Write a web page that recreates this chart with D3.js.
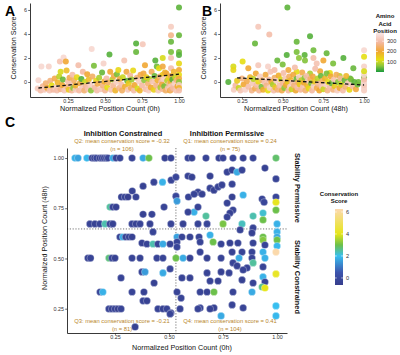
<!DOCTYPE html>
<html><head><meta charset="utf-8">
<script src="https://cdn.jsdelivr.net/npm/d3@7"></script>
<style>
body{margin:0;background:#fff}
svg{display:block}
text{font-family:"Liberation Sans",Arial,Helvetica,sans-serif}
</style>
</head><body>
<svg id="fig" width="400" height="355"></svg>
<script>
// ---------- DATA ----------
// Panel A: [normalized count 0h, conservation score, amino acid position]
const panelA = [
[0.045,-0.55,330],[0.05,0.15,345],[0.065,-0.7,300],[0.07,1.3,350],[0.08,-0.35,280],[0.09,-0.65,320],[0.1,-0.1,250],[0.11,-0.5,200],[0.12,1.3,340],[0.125,-0.7,310],[0.13,0.1,260],[0.14,-0.3,120],[0.15,-0.65,290],[0.16,0.3,220],[0.165,-0.45,330],[0.175,-0.7,300],[0.18,-0.05,180],[0.19,0.45,90],[0.195,1.7,310],[0.2,0.85,110],[0.2,-0.6,270],[0.21,-0.25,200],[0.215,0.2,40],[0.22,2.05,350],[0.225,-0.7,320],[0.235,1.7,200],[0.24,0.95,170],[0.245,-0.4,260],[0.25,0.05,300],[0.255,-0.65,150],[0.26,0.35,220],[0.27,-0.2,310],[0.275,-0.7,280],[0.28,0.6,300],[0.285,-0.5,60],[0.29,0.15,240],[0.3,-0.65,330],[0.3,-0.3,190],
[0.31,0.4,130],[0.32,1.4,300],[0.325,-0.7,290],[0.33,-0.1,210],[0.34,0.25,30],[0.345,-0.5,320],[0.35,0.85,290],[0.36,-0.7,250],[0.365,0.0,100],[0.37,-0.35,280],[0.38,0.65,200],[0.385,-0.6,310],[0.39,0.2,170],[0.4,-0.2,330],[0.405,-0.7,60],[0.41,2.75,350],[0.415,0.45,240],[0.425,1.35,50],[0.43,-0.45,290],[0.44,0.1,130],[0.445,-0.7,300],[0.45,-0.15,220],[0.46,0.35,80],[0.47,-0.6,320],[0.48,0.8,40],[0.485,-0.3,260],[0.49,1.55,340],[0.495,0.05,190],[0.5,-0.7,280],[0.51,0.3,300],[0.515,-0.45,120],[0.52,-0.05,240],[0.53,2.3,30],[0.535,0.85,200],[0.54,-0.65,310],[0.55,0.2,90],[0.555,-0.3,280],[0.56,0.5,220],[0.57,-0.7,180],[0.575,0.0,330],[0.58,0.65,50],[0.59,1.0,130],[0.595,-0.5,270],[0.6,0.25,210],
[0.61,-0.2,300],[0.615,-0.7,240],[0.62,0.4,100],[0.63,1.8,310],[0.635,-0.4,190],[0.645,0.85,210],[0.65,0.1,40],[0.655,-0.65,320],[0.66,-0.1,150],[0.67,0.55,280],[0.675,-0.5,230],[0.68,0.2,70],[0.69,0.95,130],[0.695,-0.7,300],[0.7,-0.25,200],[0.71,3.2,30],[0.71,2.5,40],[0.715,0.35,260],[0.72,-0.55,110],[0.73,0.05,330],[0.735,-0.7,180],[0.74,0.6,220],[0.75,-0.3,290],[0.755,3.15,320],[0.76,0.7,210],[0.765,0.15,60],[0.77,1.4,200],[0.775,-0.6,300],[0.78,0.4,150],[0.79,-0.15,250],[0.795,-0.7,330],[0.8,0.25,90],[0.81,-0.45,200],[0.815,0.85,230],[0.82,0.05,310],[0.83,-0.65,140],[0.835,0.5,40],[0.84,1.8,30],[0.845,-0.3,270],[0.85,1.3,45],
[0.855,0.15,190],[0.86,-0.7,320],[0.865,1.15,120],[0.87,0.45,260],[0.875,-0.45,80],[0.88,0.0,300],[0.885,-0.2,210],[0.89,2.0,110],[0.89,1.3,210],[0.89,0.6,150],[0.89,-0.6,280],[0.895,0.25,330],[0.9,-0.35,50],[0.905,0.8,180],[0.91,-0.7,240],[0.915,0.7,200],[0.92,0.1,90],[0.925,-0.5,310],[0.93,0.35,140],[0.935,-0.15,270],[0.94,-0.7,200],[0.946,4.6,330],[0.946,3.9,270],[0.946,3.35,40],[0.946,2.5,50],[0.946,2.0,310],[0.946,1.15,300],[0.946,0.5,220],[0.946,0.0,180],[0.946,-0.35,320],[0.946,-0.65,250],[0.955,0.2,30],[0.96,-0.5,290],[0.965,0.85,180],[0.97,-0.1,340],[0.975,0.4,100],[0.98,-0.7,310],[0.985,0.15,260],[0.99,-0.35,200],[1.0,6.2,35],[1.0,3.9,40],[1.0,2.5,45],[1.0,2.25,30],[1.0,1.55,130],[1.0,1.0,200],[1.0,0.6,120],[1.0,0.3,210],[1.0,0.0,60],[1.0,-0.25,330],[1.0,-0.5,180],[1.0,-0.7,300]
];
// Panel B: [normalized count 48h, conservation score, amino acid position]
const panelB = [
[0.529,6.2,35],[0.35,4.6,320],[0.418,3.95,300],[0.33,3.2,40],[0.668,3.8,30],[0.586,3.35,40],[0.586,2.5,50],[0.6,2.0,60],[1.0,2.65,350],[1.0,2.1,120],[1.0,1.3,340],[0.467,1.8,40],[0.525,2.25,30],[0.5,1.45,50],[0.689,2.65,45],[0.635,2.25,35],[0.637,1.8,55],[0.689,2.0,300],[0.75,1.8,200],[0.77,2.4,40],[0.81,1.55,50],[0.873,2.0,30],[0.934,1.15,40],[0.709,1.55,310],[0.35,1.4,320],[0.289,1.15,200],[0.254,1.7,120],[0.197,1.3,110],[0.197,1.0,130],[0.166,0.0,30],[0.41,1.3,340],[0.45,1.0,300],[0.535,1.0,210],[0.586,0.85,120],[0.668,0.7,80],[0.73,0.9,200],[0.79,0.75,120],[0.85,0.5,90],[0.914,0.3,40],[0.965,0.0,45],[1.0,0.35,40],
[0.2,-0.65,330],[0.21,-0.3,290],[0.22,0.1,150],[0.23,-0.5,100],[0.24,-0.7,310],[0.25,0.3,260],[0.26,-0.2,200],[0.27,-0.65,340],[0.28,0.05,220],[0.29,-0.4,300],[0.3,0.4,180],[0.31,-0.7,270],[0.315,-0.1,320],[0.32,0.25,90],[0.33,-0.55,230],[0.335,0.7,200],[0.34,-0.25,300],[0.35,0.05,130],[0.355,-0.7,280],[0.36,0.45,330],[0.37,-0.4,50],[0.375,0.15,250],[0.38,-0.65,190],[0.39,-0.05,310],[0.395,0.6,210],[0.4,-0.3,270],[0.41,-0.7,120],[0.415,0.2,290],[0.42,-0.5,340],[0.425,0.85,310],[0.43,0.0,200],[0.44,-0.2,80],[0.445,-0.7,300],[0.45,0.35,240],[0.455,-0.45,160],[0.46,0.1,330],[0.47,-0.65,260],[0.475,0.55,190],[0.48,-0.3,300],[0.49,0.2,110],[0.495,-0.7,220],[0.5,-0.1,280],[0.505,0.75,300],[0.51,-0.5,60],[0.515,0.3,320],[0.52,-0.25,200],[0.53,0.05,150],[0.535,-0.7,290],[0.54,0.45,240],[0.545,-0.4,330],[0.55,0.15,180],[0.555,-0.6,100],[0.56,-0.05,310],[0.565,0.6,210],[0.57,-0.3,260],[0.575,1.2,300],[0.58,-0.7,200],[0.585,0.25,40],[0.59,-0.45,300],[0.595,0.0,230],[0.6,0.4,330],[0.605,-0.2,150],[0.61,-0.65,280],[0.615,0.15,90],[0.62,0.8,220],[0.625,-0.4,310],[0.63,-0.05,200],[0.635,0.35,60],[0.64,-0.7,250],[0.645,0.5,300],[0.65,-0.25,180],[0.655,0.1,320],[0.66,-0.55,130],[0.67,0.25,240],[0.675,-0.1,50],[0.68,-0.7,290],[0.685,0.45,210],[0.69,-0.35,330],[0.695,0.05,160],[0.7,1.1,300],[0.71,-0.5,220],[0.715,0.3,90],[0.72,-0.15,280],[0.725,-0.7,200],[0.735,0.5,40],[0.74,-0.4,310],[0.745,0.1,240],[0.75,-0.6,100],[0.76,0.3,180],[0.765,-0.2,330],[0.77,0.7,50],[0.775,-0.7,270],[0.78,0.0,120],[0.79,-0.45,300],[0.795,0.45,200],[0.8,-0.1,40],[0.81,-0.65,260],[0.815,0.2,310],[0.82,-0.35,150],[0.83,0.6,230],[0.835,-0.7,330],[0.84,0.0,60],[0.85,-0.5,200],[0.855,0.3,280],[0.86,-0.2,110],[0.87,-0.7,300],[0.88,0.15,40],[0.885,-0.4,250],[0.89,0.5,180],[0.9,-0.1,320],[0.91,-0.65,130],[0.92,0.2,50],[0.93,-0.35,290],[0.94,0.0,35],[0.95,-0.6,210],[0.96,-0.2,45],[1.0,-0.7,330],[1.0,-0.5,340],[1.0,-0.25,320],[1.0,0.0,345],[1.0,0.2,300],[1.0,0.6,350],[1.0,0.9,110]
];
// Panel C: [normalized count 0h, normalized count 48h, conservation score]
const panelC = [
[0.065,1,1.8],[0.079,1,1.6],[0.12,1,1.9],[0.144,1,-0.3],[0.155,1,-0.4],[0.165,1,-0.2],[0.18,1,-0.5],[0.19,1,-0.3],[0.2,1,-0.4],[0.21,1,-0.3],[0.218,1,-0.2],[0.241,1,1.7],[0.255,1,-0.4],[0.273,1,-0.3],[0.329,1,-0.3],[0.38,1,1.7],[0.407,1,3.0],[0.481,1,-0.4],[0.509,1,-0.3],[0.588,1,-0.3],[0.606,1,-0.4],[0.671,1,-0.3],[0.731,1,-0.4],[0.75,1,-0.3],[0.796,1,-0.3],[0.843,1,-0.4],[0.889,1,-0.3],[0.995,1,2.8],
[0.47,0.88,1.8],[0.51,0.89,-0.3],[0.532,0.905,-0.2],[0.43,0.88,-0.3],[0.38,0.86,-0.4],[0.33,0.836,-0.3],[0.28,0.806,-0.4],[0.296,0.806,-0.3],[0.31,0.806,-0.5],[0.347,0.806,-0.3],[0.532,0.81,-0.2],[0.537,0.786,1.5],[0.227,0.756,2.5],[0.24,0.756,-0.3],[0.255,0.756,-0.4],[0.477,0.756,-0.3],[0.38,0.72,-0.4],[0.421,0.72,-0.3],
[0.134,0.672,-0.3],[0.157,0.672,-0.4],[0.18,0.672,-0.3],[0.204,0.672,2.4],[0.227,0.672,-0.3],[0.24,0.672,-0.4],[0.329,0.672,-0.3],[0.347,0.672,-0.4],[0.366,0.672,-0.3],[0.412,0.672,-0.4],[0.509,0.672,-0.3],
[0.565,0.672,-0.4],[0.634,0.672,-0.3],[0.676,0.672,-0.2],[0.588,0.91,-0.3],[0.606,0.905,-0.4],[0.59,0.806,-0.3],[0.634,0.83,-0.4],[0.671,0.711,2.5],[0.616,0.731,1.8],[0.588,0.731,-0.3],[0.634,0.756,-0.3],[0.616,0.82,-0.3],[0.653,0.82,-0.4],[0.69,0.85,-0.3],[0.708,0.84,-0.4],[0.727,0.856,-0.3],[0.745,0.866,-0.3],[0.69,0.91,-0.4],[0.769,0.93,-0.3],[0.792,0.94,-0.4],[0.815,0.93,1.7],[0.838,0.94,-0.3],[0.944,0.95,-0.4],[0.995,0.896,-0.3],[0.792,0.87,-0.3],[0.792,0.806,-0.4],[0.843,0.816,1.8],[0.769,0.776,-0.3],[0.931,0.796,-0.3],[0.94,0.78,-0.2],[0.995,0.806,-0.2],[0.995,0.78,4.1],[0.796,0.741,-0.3],[0.782,0.726,-0.4],[0.769,0.706,-0.3],[0.995,0.741,3.0],[0.889,0.711,2.4],[0.935,0.726,2.2],[0.935,0.692,3.0],[0.75,0.672,3.1],[0.838,0.672,2.3],[1.0,0.672,1.8],[0.889,0.652,-0.3],
[0.273,0.607,-0.3],[0.287,0.607,1.7],[0.3,0.607,-0.4],[0.315,0.607,-0.3],[0.329,0.607,-0.4],[0.426,0.632,-0.3],[0.375,0.577,-0.4],[0.398,0.572,-0.3],[0.426,0.572,2.4],[0.449,0.572,-0.3],[0.472,0.572,1.7],[0.505,0.572,-0.3],[0.125,0.502,-0.4],[0.137,0.502,-0.3],[0.222,0.502,2.7],[0.236,0.502,-0.3],[0.25,0.502,-0.4],[0.329,0.502,-0.3],[0.366,0.502,-0.4],[0.444,0.502,-0.3],[0.472,0.502,-0.3],[0.505,0.448,-0.2],[0.278,0.403,-0.3],[0.375,0.433,-0.3],[0.389,0.433,1.5],[0.472,0.428,1.7],[0.431,0.378,-0.4],[0.181,0.333,-0.3],[0.194,0.333,1.8],[0.329,0.333,-0.3],[0.384,0.333,-0.4],[0.38,0.289,-0.3],[0.398,0.289,-0.4],[0.222,0.249,-0.3],[0.236,0.249,-0.4],[0.25,0.249,-0.3],[0.264,0.249,-0.5],[0.278,0.249,-0.3],[0.449,0.249,-0.3],[0.472,0.249,-0.4],[0.49,0.249,-0.3],[0.509,0.229,-0.3],[0.343,0.159,-0.4],[0.505,0.224,-0.3],
[0.537,0.607,1.6],[0.56,0.607,-0.3],[0.597,0.607,-0.4],[0.639,0.607,-0.3],[0.537,0.582,-0.3],[0.537,0.557,-0.2],[0.69,0.617,1.8],[0.829,0.642,-0.3],[0.884,0.627,-0.4],[0.935,0.607,3.0],[1.0,0.632,1.8],[0.644,0.582,-0.3],[0.704,0.582,3.0],[0.741,0.572,-0.3],[0.782,0.577,-0.4],[0.819,0.577,-0.3],[0.889,0.577,-0.3],[0.935,0.592,3.2],[0.944,0.567,-0.3],[1.0,0.607,1.7],[1.0,0.592,3.0],[1.0,0.562,1.9],[0.644,0.532,-0.3],[0.792,0.532,-0.4],[0.838,0.532,-0.3],[0.884,0.532,-0.3],[0.935,0.532,1.8],[0.995,0.532,6.2],[0.532,0.502,3.0],[0.565,0.502,1.7],[0.597,0.502,-0.4],[0.676,0.502,-0.4],[0.741,0.502,-0.3],[0.824,0.502,1.7],[0.884,0.502,-0.3],[0.944,0.502,1.8],[0.796,0.478,-0.3],[0.815,0.463,-0.4],[0.889,0.478,2.5],[0.861,0.453,-0.3],[0.935,0.458,-0.3],[0.676,0.428,-0.3],[0.741,0.433,-0.4],[0.778,0.428,-0.3],[0.843,0.443,-0.3],[0.838,0.393,-0.4],[0.889,0.378,-0.3],[0.935,0.408,1.8],[0.944,0.383,-0.3],[0.995,0.423,4.2],[0.69,0.388,-0.3],[0.727,0.388,-0.4],[0.931,0.358,2.6],[0.944,0.353,4.0],[0.644,0.333,-0.3],[0.676,0.333,-0.4],[0.708,0.333,3.0],[0.796,0.333,-0.3],[0.884,0.333,1.7],[0.644,0.254,-0.3],[0.708,0.254,-0.4],[0.792,0.269,-0.3],[0.843,0.254,-0.3],[0.995,0.264,2.0],[0.741,0.214,1.7],[0.995,0.214,1.9],[0.556,0.303,-0.3],[0.537,0.333,-0.3],[0.56,0.403,-0.3],[0.597,0.403,-0.4],[0.551,0.249,-0.3],[0.634,0.249,-0.3],[0.69,0.249,-0.4]
];
const trendA = [[0.05,-0.5],[1.0,0.65]];
const trendB = [[0.22,0.35],[1.0,-0.25]];
const xTicks = [0.25,0.5,0.75,1.0];
const consTicks = [0,2,4,6];
const posTicks = [100,200,300];
const cutX = 0.532, cutY = 0.647;
const quadrants = [
  {label:"Q2: mean conservation score = -0.32", n:"(n = 106)"},
  {label:"Q1: mean conservation score = 0.24", n:"(n = 75)"},
  {label:"Q3: mean conservation score = -0.21", n:"(n = 81)"},
  {label:"Q4: mean conservation score = 0.41", n:"(n = 104)"}
];
const posColors = ["#1a9a3c","#8dc63a","#e6de12","#f1a733","#f4b9a2","#f8e6e6"];
const posStops = [0,60,120,200,290,380];
const consColors = ["#363d8c","#3d54ad","#38bff0","#6cc04a","#e6e61a","#fcd9b0"];
const consStops = [-0.64,0.5,2,3,4,6.27];

// ---------- DRAW ----------
const svg = d3.select("#fig");
const defs = svg.append("defs");
const posColor = d3.scaleLinear().domain(posStops).range(posColors).clamp(true);
const consColor = d3.scaleLinear().domain(consStops).range(consColors).clamp(true);
const fmt2 = d3.format(".2f");
const tickFont = 5.4, titleFont = 7.2;

function styleAxis(g){
  g.select(".domain").attr("stroke","#222").attr("stroke-width",0.9);
  g.selectAll(".tick line").attr("stroke","#222").attr("stroke-width",0.7);
  g.selectAll(".tick text").attr("fill","#333").attr("font-size",tickFont).attr("font-family","Liberation Sans, Arial, sans-serif");
}

function scatterPanel(cfg){
  const x = d3.scaleLinear().domain(cfg.xDom).range(cfg.xRange);
  const y = d3.scaleLinear().domain(cfg.yDom).range(cfg.yRange);
  const g = svg.append("g");
  g.selectAll("circle").data(cfg.data).join("circle")
    .attr("cx",d=>x(d[0])).attr("cy",d=>y(d[1])).attr("r",3.0)
    .attr("fill",d=>posColor(d[2])).attr("fill-opacity",0.9);
  g.append("path").datum(cfg.trend)
    .attr("d",d3.line().x(d=>x(d[0])).y(d=>y(d[1])))
    .attr("stroke","#111").attr("stroke-width",1.3).attr("stroke-dasharray","3.5,2.5").attr("fill","none");
  g.append("g").attr("transform",`translate(0,${cfg.yRange[0]})`)
    .call(d3.axisBottom(x).tickValues(xTicks).tickFormat(fmt2).tickSize(1.8).tickPadding(0.6).tickSizeOuter(0)).call(styleAxis);
  g.append("g").attr("transform",`translate(${cfg.xRange[0]},0)`)
    .call(d3.axisLeft(y).tickValues(consTicks).tickSize(1.8).tickPadding(1.2).tickSizeOuter(0)).call(styleAxis);
  g.append("text").attr("x",cfg.xTitleX).attr("y",cfg.yRange[0]+13.5).attr("text-anchor","middle")
    .attr("font-size",titleFont).attr("fill","#111").text(cfg.xTitle);
  g.append("text").attr("transform",`translate(${cfg.yTitleX},${cfg.yTitleY}) rotate(-90)`).attr("text-anchor","middle")
    .attr("font-size",titleFont).attr("fill","#111").text("Conservation Score");
  svg.append("text").attr("x",cfg.tagX).attr("y",cfg.tagY).attr("font-size",14).attr("font-weight","bold").attr("fill","#000").text(cfg.tag);
}

scatterPanel({data:panelA, trend:trendA, xDom:[-0.007,1.027], xRange:[30,183], yDom:[-1.25,6.58], yRange:[97,3],
  xTitle:"Normalized Position Count (0h)", xTitleX:110, yTitleX:16, yTitleY:48, tag:"A", tagX:5, tagY:16});
scatterPanel({data:panelB, trend:trendB, xDom:[0.115,1.018], xRange:[220,367], yDom:[-1.25,6.58], yRange:[97,3],
  xTitle:"Normalized Position Count (48h)", xTitleX:296, yTitleX:206, yTitleY:48, tag:"B", tagX:202, tagY:16});

// Legend: Amino Acid Position
(function(){
  const y0 = 72, y1 = 33, bx = 376, bw = 8;
  const s = d3.scaleLinear().domain([0,380]).range([y0,y1]);
  const grad = defs.append("linearGradient").attr("id","gPos").attr("x1",0).attr("y1",1).attr("x2",0).attr("y2",0);
  posStops.forEach((v,i)=>grad.append("stop").attr("offset",v/380).attr("stop-color",posColors[i]));
  svg.append("rect").attr("x",bx).attr("y",y1).attr("width",bw).attr("height",y0-y1).attr("fill","url(#gPos)");
  const lg = svg.append("g");
  ["Amino","Acid","Position"].forEach((t,i)=>lg.append("text").attr("x",385).attr("y",18+i*7.5).attr("text-anchor","middle")
    .attr("font-size",6).attr("font-weight","bold").attr("fill","#111").text(t));
  posTicks.forEach(v=>{
    lg.append("line").attr("x1",bx).attr("x2",bx+1.8).attr("y1",s(v)).attr("y2",s(v)).attr("stroke","#fff").attr("stroke-width",0.6);
    lg.append("line").attr("x1",bx+bw-1.8).attr("x2",bx+bw).attr("y1",s(v)).attr("y2",s(v)).attr("stroke","#fff").attr("stroke-width",0.6);
    lg.append("text").attr("x",bx+bw+3).attr("y",s(v)+2).attr("font-size",5.6).attr("fill","#333").text(v);
  });
})();

// Panel C
(function(){
  const x = d3.scaleLinear().domain([0.028,1.046]).range([67,287]);
  const y = d3.scaleLinear().domain([0.129,1.05]).range([333,148]);
  const g = svg.append("g");
  g.append("line").attr("x1",x(cutX)).attr("x2",x(cutX)).attr("y1",148).attr("y2",333)
    .attr("stroke","#555").attr("stroke-width",0.8).attr("stroke-dasharray","1.2,1.6");
  g.append("line").attr("x1",67).attr("x2",287).attr("y1",y(cutY)).attr("y2",y(cutY))
    .attr("stroke","#555").attr("stroke-width",0.8).attr("stroke-dasharray","1.2,1.6");
  g.selectAll("circle").data(panelC).join("circle")
    .attr("cx",d=>x(d[0])).attr("cy",d=>y(d[1])).attr("r",3.6)
    .attr("fill",d=>consColor(d[2])).attr("stroke","#fff").attr("stroke-width",0.3);
  g.append("g").attr("transform","translate(0,333)")
    .call(d3.axisBottom(x).tickValues(xTicks).tickFormat(fmt2).tickSize(1.8).tickPadding(0.8).tickSizeOuter(0)).call(styleAxis);
  g.append("g").attr("transform","translate(67,0)")
    .call(d3.axisLeft(y).tickValues(xTicks).tickFormat(fmt2).tickSize(1.8).tickPadding(1.2).tickSizeOuter(0)).call(styleAxis);
  g.append("text").attr("x",182).attr("y",350).attr("text-anchor","middle").attr("font-size",titleFont).attr("fill","#111")
    .text("Normalized Position Count (0h)");
  g.append("text").attr("transform","translate(47,238) rotate(-90)").attr("text-anchor","middle").attr("font-size",titleFont).attr("fill","#111")
    .text("Normalized Position Count (48h)");
  // headers
  g.append("text").attr("x",123).attr("y",135.5).attr("text-anchor","middle").attr("font-size",7.4).attr("font-weight","bold").attr("fill","#111").text("Inhibition Constrained");
  g.append("text").attr("x",227).attr("y",135.5).attr("text-anchor","middle").attr("font-size",7.4).attr("font-weight","bold").attr("fill","#111").text("Inhibition Permissive");
  g.append("text").attr("transform","translate(295,188) rotate(90)").attr("text-anchor","middle").attr("font-size",7.4).attr("font-weight","bold").attr("fill","#111").text("Stability Permissive");
  g.append("text").attr("transform","translate(295,277) rotate(90)").attr("text-anchor","middle").attr("font-size",7.4).attr("font-weight","bold").attr("fill","#111").text("Stability Constrained");
  const qpos = [[122,143],[230,143],[122,323],[230,323]];
  quadrants.forEach((q,i)=>{
    g.append("text").attr("x",qpos[i][0]).attr("y",qpos[i][1]).attr("text-anchor","middle").attr("font-size",5.8).attr("fill","#b8862b").text(q.label);
    g.append("text").attr("x",qpos[i][0]).attr("y",qpos[i][1]+7.5).attr("text-anchor","middle").attr("font-size",5.8).attr("fill","#b8862b").text(q.n);
  });
  svg.append("text").attr("x",5).attr("y",127).attr("font-size",14).attr("font-weight","bold").attr("fill","#000").text("C");
  // legend
  const ly0 = 285, ly1 = 209, bx = 335, bw = 8;
  const s = d3.scaleLinear().domain([consStops[0],consStops[consStops.length-1]]).range([ly0,ly1]);
  const grad = defs.append("linearGradient").attr("id","gCons").attr("x1",0).attr("y1",1).attr("x2",0).attr("y2",0);
  const span = consStops[consStops.length-1]-consStops[0];
  consStops.forEach((v,i)=>grad.append("stop").attr("offset",(v-consStops[0])/span).attr("stop-color",consColors[i]));
  svg.append("rect").attr("x",bx).attr("y",ly1).attr("width",bw).attr("height",ly0-ly1).attr("fill","url(#gCons)");
  ["Conservation","Score"].forEach((t,i)=>svg.append("text").attr("x",339).attr("y",196+i*7).attr("text-anchor","middle")
    .attr("font-size",6).attr("font-weight","bold").attr("fill","#111").text(t));
  consTicks.forEach(v=>{
    svg.append("line").attr("x1",bx).attr("x2",bx+1.8).attr("y1",s(v)).attr("y2",s(v)).attr("stroke","#fff").attr("stroke-width",0.6);
    svg.append("line").attr("x1",bx+bw-1.8).attr("x2",bx+bw).attr("y1",s(v)).attr("y2",s(v)).attr("stroke","#fff").attr("stroke-width",0.6);
    svg.append("text").attr("x",bx+bw+3).attr("y",s(v)+2).attr("font-size",5.6).attr("fill","#333").text(v);
  });
})();
</script>
</body></html>
